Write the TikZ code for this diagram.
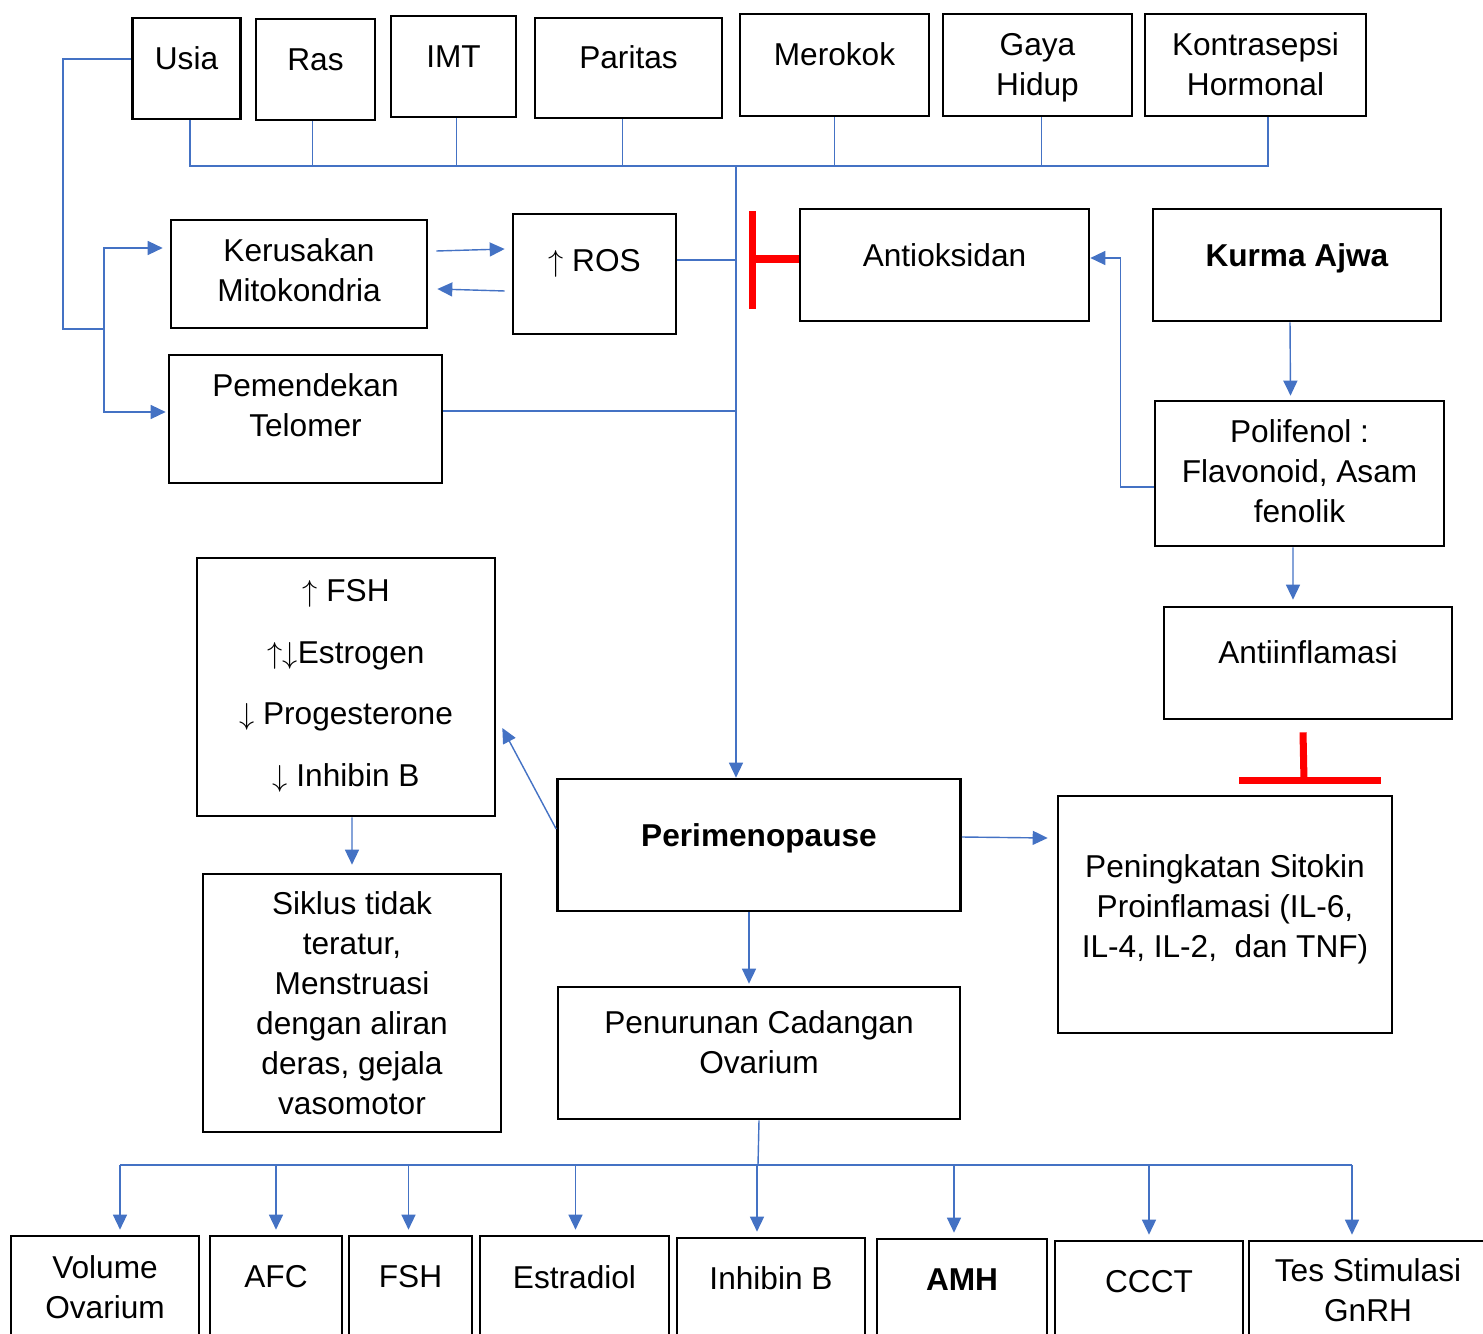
\documentclass[tikz,border=0pt]{standalone}
\usepackage{fontspec}
\setmainfont{Liberation Sans}
\usetikzlibrary{arrows.meta}
\definecolor{linkblue}{HTML}{4472C4}
\begin{document}
\begin{tikzpicture}[x=0.02cm, y=-0.02cm,
  font=\fontsize{18}{22.8}\selectfont,
  box/.style={draw, line width=1.5pt, inner sep=0pt},
  sz/.style 2 args={minimum width=#1*0.02cm, minimum height=#2*0.02cm},
  tx/.style 2 args={label={[align=center, yshift=#1*0.02cm]center:{#2}}},
  link/.style={draw=linkblue, line width=0.8pt},
  arr/.style={-{Triangle[length=0.3cm, width=0.28cm]}},
  inhib/.style={draw=red, line width=4pt}]
\useasboundingbox (0,0) rectangle (1483,1334);
\clip (0,0) rectangle (1483,1334);
% faktor risiko
\node[box, sz={108}{101}, tx={10}{Usia}] (usia) at (186.5,68.5) {};
\node[box, sz={119}{101}, tx={10}{Ras}] (ras) at (315.5,69.5) {};
\node[box, sz={125}{101}, tx={10}{IMT}] (imt) at (453.5,66.5) {};
\node[box, sz={187}{100}, tx={11}{Paritas}] (paritas) at (628.5,68) {};
\node[box, sz={189}{102}, tx={11}{Merokok}] (merokok) at (834.5,65) {};
\node[box, sz={189}{102}, tx={-3}{Gaya\\Hidup}] (gaya) at (1037.5,65) {};
\node[box, sz={221}{102}, tx={1}{Kontrasepsi\\Hormonal}] (kontrasepsi) at (1255.5,65) {};
% mekanisme
\node[box, sz={256}{108}, tx={4}{Kerusakan\\Mitokondria}] (mito) at (299,274) {};
\node[box, sz={163}{120}, tx={11}{$\uparrow$ ROS}] (ros) at (594.5,274) {};
\node[box, sz={289}{112}, tx={10}{Antioksidan}] (antioks) at (944.5,265) {};
\node[box, sz={288}{112}, tx={7}{\textbf{Kurma Ajwa}}] (kurma) at (1297,265) {};
\node[box, sz={273}{128}, tx={14}{Pemendekan\\Telomer}] (telomer) at (305.5,419) {};
\node[box, sz={289}{145}, tx={2}{Polifenol :\\Flavonoid, Asam\\fenolik}] (polifenol) at (1299.5,473.5) {};
\node[box, sz={288}{112}, tx={11}{Antiinflamasi}] (antiinfl) at (1308,663) {};
\node[box, sz={298}{258}, label={[align=center, yshift=0.02cm, font=\fontsize{18}{35.1}\selectfont]center:{$\uparrow$ FSH\\$\uparrow\downarrow$Estrogen\\$\downarrow$ Progesterone\\$\downarrow$ Inhibin B}}] (hormon) at (346,687) {};
\node[box, sz={403}{132}, tx={7}{\textbf{Perimenopause}}] (peri) at (759,845) {};
\node[box, sz={334}{237}, tx={5}{Peningkatan Sitokin\\Proinflamasi (IL-6,\\IL-4, IL-2,\ \ dan TNF)}] (sitokin) at (1225,914.5) {};
\node[box, sz={298}{258}, tx={0}{Siklus tidak\\teratur,\\Menstruasi\\dengan aliran\\deras, gejala\\vasomotor}] (siklus) at (352,1003) {};
\node[box, sz={402}{132}, tx={11}{Penurunan Cadangan\\Ovarium}] (cadangan) at (759,1053) {};
% pemeriksaan
\node[box, sz={188}{104}, tx={1}{Volume\\Ovarium}] (volume) at (105,1288) {};
\node[box, sz={132}{104}, tx={11}{AFC}] (afc) at (276,1288) {};
\node[box, sz={123}{104}, tx={11}{FSH}] (fsh) at (410.5,1288) {};
\node[box, sz={189}{104}, tx={11}{Estradiol}] (estradiol) at (574.5,1288) {};
\node[box, sz={188}{104}, tx={12}{Inhibin B}] (inhibin) at (771,1290) {};
\node[box, sz={170}{104}, tx={11}{\textbf{AMH}}] (amh) at (962,1291) {};
\node[box, sz={188}{104}, tx={11}{CCCT}] (ccct) at (1149,1293) {};
\node[box, sz={238}{104}, tx={3}{Tes Stimulasi\\GnRH}] (gnrh) at (1368,1293) {};

% garis faktor risiko
\coordinate (hub) at (736,166);
\coordinate (u1) at ([xshift=0.07cm]usia.south);
\coordinate (k1) at ([xshift=0.25cm]kontrasepsi.south);
\draw[link] (u1) |- (k1 |- hub) -- (k1);
\foreach \n/\dx in {ras/-3, imt/3, paritas/-6, merokok/0, gaya/4}{
  \coordinate (f\n) at ([xshift=\dx*0.02cm]\n.south);
  \draw[link] (f\n) -- (f\n |- hub);
}
\draw[link, arr] (hub) -- (hub |- peri.north);
\coordinate (r1) at ([yshift=0.28cm]ros.east);
\draw[link] (r1) -- (r1 -| hub);
\coordinate (t1) at ([yshift=0.16cm]telomer.east);
\draw[link] (t1) -- (t1 -| hub);
\coordinate (split) at (104,329);
\draw[link] ([yshift=0.19cm]usia.west) -- ++(-68,0) |- (split);
\draw[link, arr] (split) |- ([xshift=-0.14cm, yshift=0.52cm]mito.west);
\draw[link, arr] (split) |- ([xshift=-0.04cm, yshift=0.14cm]telomer.west);
\draw[link, arr] ([xshift=0.16cm, yshift=0.46cm]mito.east) -- ([xshift=-0.14cm, yshift=0.5cm]ros.west);
\draw[link, arr] ([xshift=-0.14cm, yshift=-0.34cm]ros.west) -- ([xshift=0.18cm, yshift=-0.3cm]mito.east);

% hambatan
\coordinate (a1) at ([yshift=0.12cm]antioks.west);
\draw[inhib] (a1) -- ++(-46,0) coordinate (bar1);
\draw[inhib] ([yshift=0.96cm]bar1) -- ([yshift=-1cm]bar1);
\draw[inhib] ([xshift=-0.1cm, yshift=-0.24cm]antiinfl.south) -- ([xshift=1.58cm, yshift=0.28cm]sitokin.north) coordinate (bar2);
\draw[inhib] ([xshift=-1.3cm]bar2) -- ([xshift=1.54cm]bar2);

% kurma ajwa
\draw[link, arr] ([xshift=-0.14cm]kurma.south) -- ([xshift=-0.18cm, yshift=0.08cm]polifenol.north);
\draw[link, arr] ([yshift=-0.27cm]polifenol.west) -- ++(-33,0) |- ([yshift=0.14cm]antioks.east);
\draw[link, arr] ([xshift=-0.13cm]polifenol.south) -- ([xshift=-0.3cm, yshift=0.12cm]antiinfl.north);

% perimenopause
\draw[link, arr] ([yshift=0.32cm]peri.west) -- ([xshift=0.12cm, yshift=-0.82cm]hormon.east);
\draw[link, arr] ([xshift=0.12cm]hormon.south) -- ([yshift=0.16cm]siklus.north);
\draw[link, arr] ([yshift=0.16cm]peri.east) -- ([xshift=-0.18cm, yshift=1.53cm]sitokin.west);
\draw[link, arr] ([xshift=-0.2cm]peri.south) -- ([xshift=-0.2cm, yshift=0.04cm]cadangan.north);

% pemeriksaan cadangan ovarium
\coordinate (hub2) at (758,1165);
\draw[link] (cadangan.south) -- (hub2);
\foreach \n/\dx in {volume/15, afc/0, fsh/-2, estradiol/1, inhibin/-14, amh/-8, ccct/0, gnrh/-16}{
  \coordinate (d\n) at ([xshift=\dx*0.02cm, yshift=0.1cm]\n.north);
  \draw[link, arr] (d\n |- hub2) -- (d\n);
}
\draw[link] (dvolume |- hub2) -- (dgnrh |- hub2);
\end{tikzpicture}
\end{document}
